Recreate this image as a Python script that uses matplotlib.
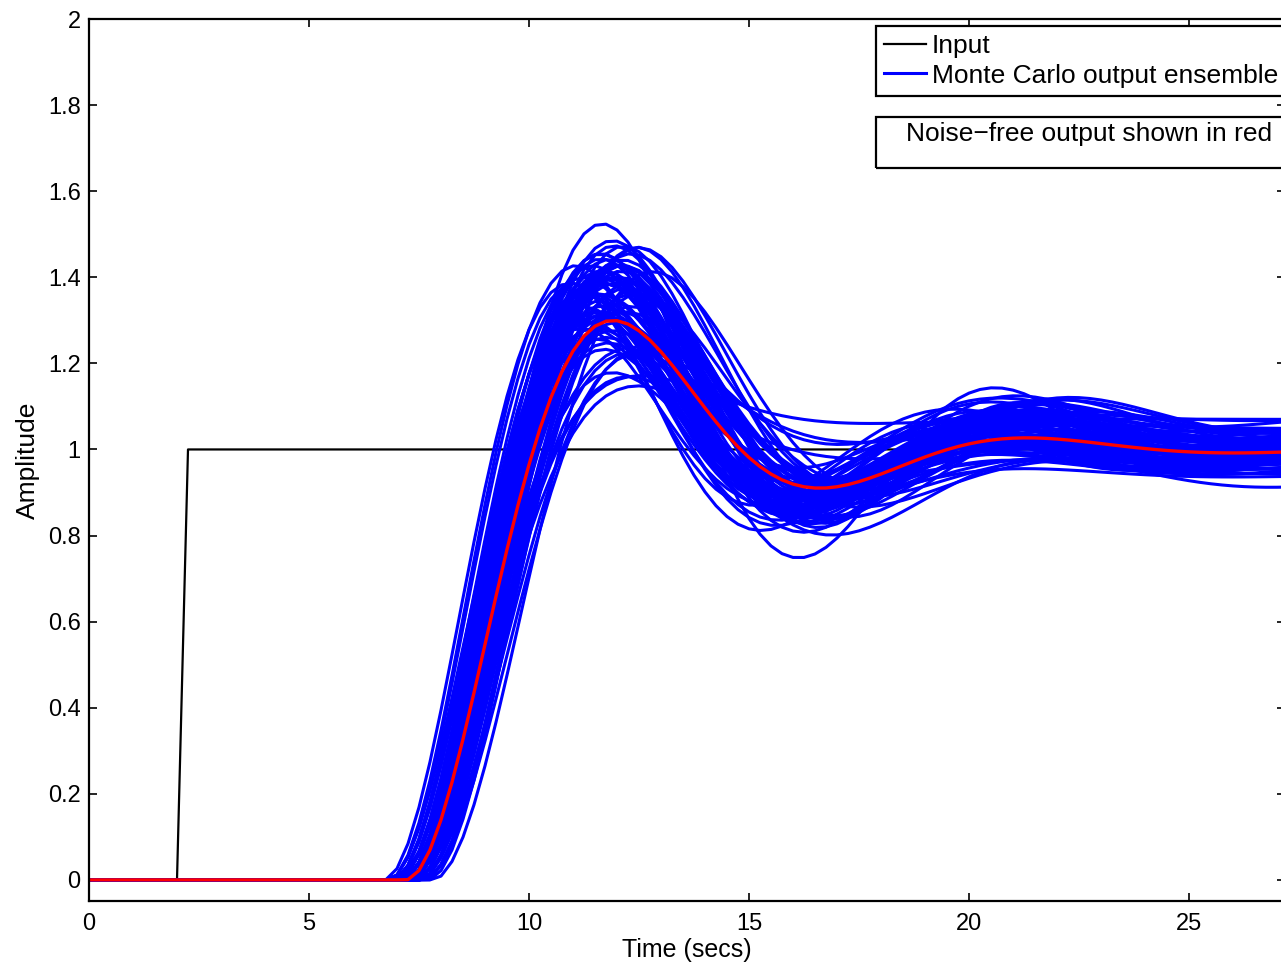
import numpy as np
import matplotlib.pyplot as plt
from matplotlib.ticker import FuncFormatter, MultipleLocator
from matplotlib.patches import Rectangle

plt.rcParams['font.family'] = ['Liberation Sans', 'DejaVu Sans']

# input step (time, value)
input_t = [0.0, 2.0, 2.25, 30.0]
input_u = [0.0, 0.0, 1.0, 1.0]

# noise-free model: gain, damping, natural freq, response start time
nominal = dict(k=1.00, zeta=0.358, wn=0.715, t0=7.2)

# Monte Carlo ensemble parameters, one entry per curve
mc_gain = [1.01, 0.97, 1.03, 1.05, 0.95, 1.02, 0.98, 1.07, 0.99, 1.01,
           1.04, 0.96, 1.00, 1.06, 0.94, 1.02, 0.99, 1.03, 0.97, 1.01,
           1.05, 0.98, 1.00, 1.04, 0.96, 1.02, 0.93, 1.06, 1.01, 0.99,
           1.03, 0.97, 1.00, 1.05, 0.98, 1.02, 0.95, 1.04, 1.01, 0.99,
           1.07, 0.97, 1.03, 1.00, 0.96, 1.02, 1.04, 0.98, 1.01, 0.99,
           1.02, 1.06, 0.98, 1.03, 0.96, 1.05, 1.00, 1.04, 0.97, 1.01,
           1.03, 0.99, 1.06, 0.98, 1.02, 1.00, 1.05, 0.97, 1.04, 1.01,
           0.99, 1.03, 1.07, 0.96, 1.02, 1.00, 1.05, 0.98, 1.04, 1.01]
mc_zeta = [0.21, 0.31, 0.29, 0.27, 0.36, 0.33, 0.30, 0.60, 0.32, 0.28,
           0.30, 0.38, 0.34, 0.29, 0.40, 0.31, 0.35, 0.26, 0.37, 0.30,
           0.28, 0.33, 0.52, 0.31, 0.35, 0.27, 0.30, 0.32, 0.30, 0.29,
           0.34, 0.45, 0.31, 0.29, 0.27, 0.33, 0.36, 0.30, 0.32, 0.28,
           0.42, 0.31, 0.34, 0.29, 0.33, 0.25, 0.32, 0.37, 0.30, 0.35,
           0.29, 0.31, 0.28, 0.33, 0.30, 0.36, 0.27, 0.32, 0.34, 0.29,
           0.31, 0.26, 0.30, 0.35, 0.28, 0.33, 0.48, 0.30, 0.32, 0.27,
           0.34, 0.29, 0.31, 0.38, 0.30, 0.28, 0.33, 0.32, 0.29, 0.36]
mc_wn = [0.72, 0.70, 0.74, 0.71, 0.68, 0.76, 0.73, 0.75, 0.69, 0.72,
         0.77, 0.70, 0.74, 0.67, 0.73, 0.71, 0.75, 0.70, 0.72, 0.78,
         0.69, 0.73, 0.71, 0.66, 0.74, 0.72, 0.66, 0.70, 0.73, 0.68,
         0.75, 0.71, 0.72, 0.74, 0.77, 0.69, 0.73, 0.70, 0.76, 0.72,
         0.71, 0.74, 0.68, 0.73, 0.75, 0.70, 0.72, 0.74, 0.69, 0.71,
         0.73, 0.70, 0.75, 0.68, 0.72, 0.74, 0.71, 0.69, 0.76, 0.73,
         0.70, 0.72, 0.67, 0.74, 0.71, 0.73, 0.69, 0.75, 0.72, 0.70,
         0.74, 0.71, 0.73, 0.68, 0.76, 0.72, 0.70, 0.74, 0.71, 0.73]
mc_t0 = [7.2, 7.4, 7.0, 7.3, 7.6, 6.9, 7.1, 7.3, 7.5, 7.2,
         6.8, 7.4, 7.0, 7.6, 7.2, 7.3, 6.9, 7.5, 7.1, 6.7,
         7.7, 7.2, 7.3, 7.8, 7.0, 7.1, 6.9, 7.4, 7.2, 7.6,
         7.0, 7.3, 7.1, 7.2, 6.8, 7.5, 7.1, 7.4, 6.9, 7.2,
         7.3, 7.0, 7.6, 7.2, 7.0, 7.3, 7.1, 7.2, 7.5, 7.3,
         7.1, 7.4, 6.9, 7.3, 7.2, 7.0, 7.5, 7.2, 6.8, 7.1,
         7.3, 7.2, 7.4, 7.0, 7.3, 7.1, 7.2, 6.9, 7.2, 7.4,
         7.0, 7.3, 7.1, 7.5, 6.9, 7.2, 7.3, 7.1, 7.2, 7.0]

t = np.arange(0, 30.001, 0.25)


def step_response(t, k, zeta, wn, t0):
    tau = np.clip(t - t0, 0, None)
    sig = zeta * wn
    wd = wn * np.sqrt(1 - zeta ** 2)
    return k * (1 - np.exp(-sig * tau) * (np.cos(wd * tau) + sig / wd * np.sin(wd * tau)))


W, H = 1281, 965
FS = 19
fig = plt.figure(figsize=(W / 100, H / 100), dpi=100)
ax = fig.add_axes([89 / W, (H - 901) / H, (1285 - 89) / W, (901 - 19) / H])

h_in, = ax.plot(input_t, input_u, color='k', lw=1.6)
h_mc = None
for k, z, wn, t0 in zip(mc_gain, mc_zeta, mc_wn, mc_t0):
    h_mc, = ax.plot(t, step_response(t, k, z, wn, t0), color=(0, 0, 1), lw=2.2)
ax.plot(t, step_response(t, **nominal), color=(1, 0, 0), lw=2.4)

ax.set_xlim(0, (1285 - 89) / 44)
ax.set_ylim(-0.049, 2)
ax.xaxis.set_major_locator(MultipleLocator(5))
ax.yaxis.set_major_locator(MultipleLocator(0.2))
ax.yaxis.set_major_formatter(FuncFormatter(lambda v, p: '%g' % round(v, 2)))
ax.tick_params(direction='in', length=6, width=1.2, top=True, right=True,
               labelsize=17)
ax.tick_params(axis='x', pad=9)
ax.tick_params(axis='y', pad=6)
for s in ax.spines.values():
    s.set_linewidth(1.6)
ax.set_xlabel('Time (secs)', fontsize=18, labelpad=2)
ax.set_ylabel('Amplitude', fontsize=19, labelpad=6)

leg = fig.legend([h_in, h_mc], ['Input', 'Monte Carlo output ensemble'],
                 loc='upper left', bbox_to_anchor=(876 / W, 1 - 26 / H),
                 fontsize=FS, handlelength=1.6, handletextpad=0.22,
                 borderpad=0.3, labelspacing=0.22, borderaxespad=0,
                 fancybox=False, framealpha=1)
leg.get_frame().set_edgecolor('k')
leg.get_frame().set_linewidth(1.6)

fig.patches.append(Rectangle((876 / W, 1 - 168 / H), 420 / W, 51 / H,
                             transform=fig.transFigure, fill=False,
                             edgecolor='k', lw=1.6))
fig.text(906 / W, 1 - 134 / H, 'Noise\u2212free output shown in red',
         fontsize=FS, va='center', ha='left')

fig.savefig('out.png', dpi=100)
